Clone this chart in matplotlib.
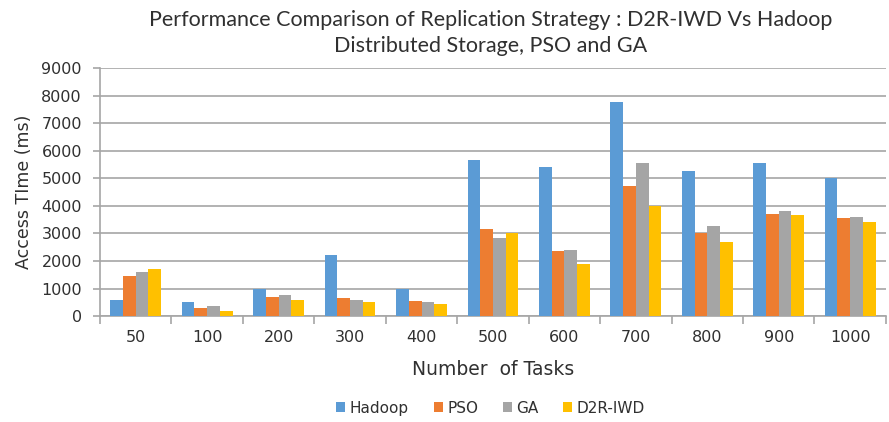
import numpy as np
import matplotlib.pyplot as plt

# data
tasks = ["50", "100", "200", "300", "400", "500", "600", "700", "800", "900", "1000"]
hadoop = [600, 500, 1000, 2200, 1000, 5650, 5400, 7750, 5250, 5550, 5000]
pso = [1450, 280, 700, 650, 550, 3150, 2350, 4700, 3000, 3700, 3550]
ga = [1600, 350, 750, 600, 500, 2850, 2400, 5550, 3250, 3800, 3600]
d2r_iwd = [1700, 180, 600, 500, 450, 3000, 1900, 4000, 2700, 3650, 3400]

series = [("Hadoop", hadoop, "#5B9BD5"),
          ("PSO", pso, "#ED7D31"),
          ("GA", ga, "#A5A5A5"),
          ("D2R-IWD", d2r_iwd, "#FFC000")]

plt.rcParams["font.family"] = ["DejaVu Sans"]
txt = "#303030"

fig = plt.figure(figsize=(8.89, 4.22), dpi=100)
ax = fig.add_axes([0.1125, 0.251, 0.884, 0.588])

x = np.arange(len(tasks))
bw = 0.178
for i, (name, vals, col) in enumerate(series):
    off = (i - 1.5) * bw
    ax.bar(x + off, vals, width=bw, color=col, label=name, zorder=3)

ax.set_xlim(-0.5, len(tasks) - 0.5)
ax.set_ylim(0, 9000)
ax.set_yticks(range(0, 9001, 1000))
ax.yaxis.grid(True, color="#a6a6a6", linewidth=1.2, zorder=0)

# category ticks sit between groups, labels in the middle
ax.set_xticks(np.arange(-0.5, len(tasks) - 0.4, 1.0))
ax.set_xticklabels([])
ax.set_xticks(x, minor=True)
ax.set_xticklabels(tasks, minor=True)
ax.tick_params(axis="x", which="minor", length=0, pad=10, labelsize=11.5, labelcolor=txt)
ax.tick_params(axis="x", which="major", length=6, color="#a6a6a6", width=1.2)
ax.tick_params(axis="y", length=5, color="#a6a6a6", width=1.2, labelsize=11.5,
               labelcolor=txt, pad=8)

for s in ["top", "right"]:
    ax.spines[s].set_visible(False)
for s in ["left", "bottom"]:
    ax.spines[s].set_color("#a6a6a6")
    ax.spines[s].set_linewidth(1.2)

ax.set_ylabel("Access TIme (ms)", fontsize=12.5, color=txt, labelpad=6)
ax.set_xlabel("Number  of Tasks", fontsize=13.5, color=txt, labelpad=11)

fig.text(0.552, 0.953, "Performance Comparison of Replication Strategy : D2R-IWD Vs Hadoop",
         ha="center", va="center", fontsize=15.5, color=txt, family="Lato")
fig.text(0.552, 0.892, "Distributed Storage, PSO and GA",
         ha="center", va="center", fontsize=15.5, color=txt, family="Lato")

fig.legend(loc="center", bbox_to_anchor=(0.552, 0.033), ncol=4, frameon=False,
           fontsize=11, handlelength=0.6, handleheight=0.6, handletextpad=0.3,
           columnspacing=1.6, labelcolor=txt)

fig.savefig("out.png", dpi=100)
